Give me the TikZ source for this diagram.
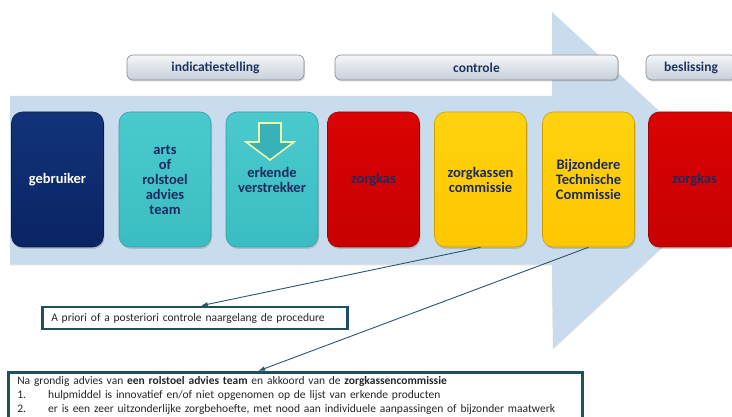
\documentclass[tikz,border=0pt]{standalone}
\usepackage{fontspec}
\setmainfont{Carlito}
\usetikzlibrary{shadows,arrows.meta,calc}
\definecolor{arrowbody}{HTML}{C9DCED}
\definecolor{cardtext}{HTML}{1C2A60}
\definecolor{headtext}{HTML}{1F3461}
\definecolor{headtop}{HTML}{F4F6F9}
\definecolor{headbot}{HTML}{C6CFD9}
\definecolor{navytop}{HTML}{12337A}
\definecolor{navybot}{HTML}{0A2463}
\definecolor{tealtop}{HTML}{4BCACE}
\definecolor{tealbot}{HTML}{3ABDC2}
\definecolor{redtop}{HTML}{DA0303}
\definecolor{redbot}{HTML}{C80000}
\definecolor{yeltop}{HTML}{FFD20F}
\definecolor{yelbot}{HTML}{FFC700}
\definecolor{boxline}{HTML}{1E5064}
\definecolor{connline}{HTML}{2C566B}
\definecolor{downfill}{HTML}{36B2B8}
\definecolor{downline}{HTML}{EEF6A8}
\begin{document}
\begin{tikzpicture}[x=1pt,y=-1pt,
  card/.style={rounded corners=11pt, minimum width=92pt, minimum height=135pt,
    align=center, font=\fontsize{14.5}{15}\selectfont\bfseries, text=cardtext,
    line width=0.6pt, inner sep=2pt,
    drop shadow={opacity=0.35, shadow xshift=1pt, shadow yshift=-2pt}},
  navycard/.style={card, top color=navytop, bottom color=navybot, draw=navybot!80!black, text=white},
  tealcard/.style={card, top color=tealtop, bottom color=tealbot, draw=tealbot!85!black},
  redcard/.style={card, top color=redtop, bottom color=redbot, draw=redbot!80!black},
  yelcard/.style={card, top color=yeltop, bottom color=yelbot, draw=yelbot!80!black},
  phase/.style={rounded corners=6pt, minimum height=25pt, inner sep=2pt,
    top color=headtop, bottom color=headbot, draw=black!45,
    line width=0.6pt, text=headtext, font=\fontsize{13.5}{15}\selectfont\bfseries,
    drop shadow={opacity=0.3, shadow xshift=1pt, shadow yshift=-1.5pt}},
  note/.style={draw=boxline, line width=2.5pt, align=left, text=black!85,
    font=\fontsize{11.5}{14}\selectfont, inner xsep=9pt, inner ysep=4pt},
  conn/.style={draw=connline, line width=0.9pt, -{Latex[length=7pt,width=4.5pt]}}
]
\clip (0,0) rectangle (732,417);
\fill[white] (0,0) rectangle (732,417);
% big process arrow
\fill[arrowbody, drop shadow={opacity=0.25, shadow xshift=0pt, shadow yshift=-1.5pt}]
  (10,96) -- (552,96) -- (552,12) -- (734,180) -- (553,348) -- (552,264) -- (10,264) -- cycle;
% phase headers
\node[phase, minimum width=177pt] (indic) at (215.5,67.5) {indicatiestelling};
\node[phase, minimum width=283pt] (contr) at (476.5,67.5) {controle};
\node[phase, minimum width=90pt] (besl) at (691,67.5) {beslissing};
% cards
\node[navycard] (geb) at (57.5,179.5) {gebruiker};
\node[tealcard] (arts) at (165,179.5) {arts\\of\\rolstoel\\advies\\team};
\node[tealcard] (erk) at (272,179.5) {erkende\\verstrekker};
\node[redcard] (zk1) at (373.5,179.5) {zorgkas};
\node[yelcard] (zkc) at (480.5,179.5) {zorgkassen\\commissie};
\node[yelcard] (btc) at (588.5,179.5) {Bijzondere\\Technische\\Commissie};
\node[redcard] (zk2) at (694.5,179.5) {zorgkas};
% down arrow in erkende verstrekker
\filldraw[fill=downfill, draw=downline, line width=1.6pt, line join=miter]
  (259,123) -- (281,123) -- (281,142) -- (294,142) -- (270,160) -- (246,142) -- (259,142) -- cycle;
% notes
\node[note, anchor=west, text width=287pt, minimum height=22pt] (apriori) at (41,318)
  {A priori of a posteriori controle naargelang de procedure};
\node[note, anchor=north west, text width=556pt] (advies) at (7,371)
  {Na grondig advies van \textbf{een rolstoel advies team} en akkoord van de \textbf{zorgkassencommissie}\\
   \makebox[31pt][l]{1.}hulpmiddel is innovatief en/of niet opgenomen op de lijst van erkende producten\\
   \makebox[31pt][l]{2.}er is een zeer uitzonderlijke zorgbehoefte, met nood aan individuele aanpassingen of bijzonder maatwerk\\
   \strut};
% connectors
\draw[conn] (zkc.south) -- ($(apriori.north)+(6,0)$);
\draw[conn] (btc.south) -- ($(advies.north west)+(251,0)$);
\end{tikzpicture}
\end{document}
